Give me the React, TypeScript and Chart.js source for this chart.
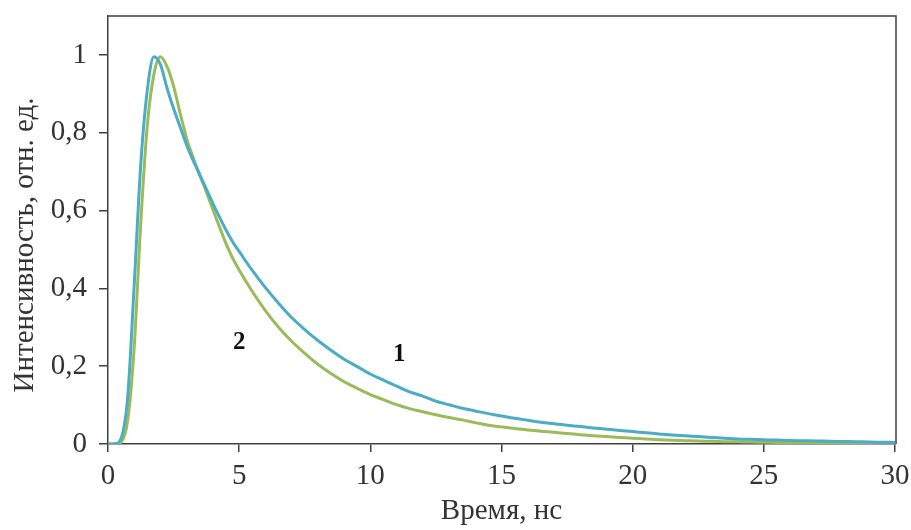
import { useEffect, useRef } from 'react';
import { Chart, registerables } from 'chart.js';

Chart.register(...registerables);

const timeNs = [
  0, 0.25, 0.5, 0.75, 1, 1.25, 1.5, 1.75, 2, 2.25, 2.5, 2.75, 3, 3.25, 3.5, 3.75, 4, 4.25, 4.5, 4.75, 5,
  5.5, 6, 6.5, 7, 7.5, 8, 8.5, 9, 9.5, 10, 10.5, 11, 11.5, 12, 12.5, 13, 13.5, 14, 14.5, 15,
  15.5, 16, 16.5, 17, 17.5, 18, 18.5, 19, 19.5, 20, 20.5, 21, 21.5, 22, 22.5, 23, 23.5, 24, 24.5, 25,
  25.5, 26, 26.5, 27, 27.5, 28, 28.5, 29, 29.5, 30,
];

const series1 = [
  0, 0, 0.015, 0.12, 0.41, 0.72, 0.91, 0.995, 0.975, 0.915, 0.862, 0.815, 0.768, 0.728, 0.692, 0.655, 0.618, 0.583, 0.55, 0.52, 0.495,
  0.446, 0.402, 0.362, 0.325, 0.294, 0.266, 0.241, 0.218, 0.199, 0.18, 0.164, 0.149, 0.134, 0.123, 0.11, 0.101, 0.092, 0.085, 0.078, 0.072,
  0.066, 0.061, 0.056, 0.052, 0.048, 0.045, 0.041, 0.038, 0.035, 0.032, 0.029, 0.026, 0.023, 0.021, 0.019, 0.017, 0.015, 0.013, 0.012, 0.011,
  0.01, 0.009, 0.0085, 0.008, 0.007, 0.0065, 0.006, 0.005, 0.0045, 0.004,
];

const series2 = [
  0, 0, 0.005, 0.06, 0.25, 0.57, 0.82, 0.95, 0.995, 0.97, 0.92, 0.85, 0.785, 0.735, 0.69, 0.648, 0.602, 0.558, 0.515, 0.478, 0.447,
  0.392, 0.343, 0.3, 0.264, 0.233, 0.205, 0.181, 0.16, 0.143, 0.127, 0.114, 0.101, 0.091, 0.083, 0.075, 0.068, 0.062, 0.055, 0.048, 0.044,
  0.04, 0.036, 0.033, 0.03, 0.027, 0.024, 0.021, 0.019, 0.017, 0.015, 0.013, 0.011, 0.0095, 0.0085, 0.0075, 0.007, 0.006, 0.0055, 0.005, 0.0045,
  0.004, 0.004, 0.0035, 0.0035, 0.003, 0.003, 0.003, 0.0025, 0.0025, 0.0025,
];

const xTickValues = [0, 5, 10, 15, 20, 25, 30];
const xTickLabels = ['0', '5', '10', '15', '20', '25', '30'];
const yTickValues = [0, 0.2, 0.4, 0.6, 0.8, 1];
const yTickLabels = ['0', '0,2', '0,4', '0,6', '0,8', '1'];

const xTitle = 'Время, нс';
const yTitle = 'Интенсивность, отн. ед.';
const curveLabels = [
  { text: '1', x: 11.1, y: 0.23 },
  { text: '2', x: 5.0, y: 0.26 },
];

const FONT = "'Liberation Serif', 'Times New Roman', serif";
const AXIS = '#404040';

const decorPlugin = {
  id: 'decor',
  afterDraw(chart: any) {
    const { ctx, chartArea, scales } = chart;
    ctx.save();
    ctx.strokeStyle = AXIS;
    ctx.lineWidth = 1.5;
    ctx.beginPath();
    ctx.moveTo(chartArea.left, chartArea.top);
    ctx.lineTo(chartArea.right + 1, chartArea.top);
    ctx.lineTo(chartArea.right + 1, chartArea.bottom);
    ctx.stroke();

    ctx.fillStyle = '#111';
    ctx.font = `bold 25px ${FONT}`;
    ctx.textAlign = 'center';
    ctx.textBaseline = 'middle';
    for (const l of curveLabels) {
      ctx.fillText(l.text, scales.x.getPixelForValue(l.x), scales.y.getPixelForValue(l.y));
    }

    ctx.fillStyle = '#333';
    ctx.font = `29px ${FONT}`;
    ctx.fillText(xTitle, (chartArea.left + chartArea.right) / 2, 511);
    ctx.translate(25, 245);
    ctx.rotate(-Math.PI / 2);
    ctx.fillText(yTitle, 0, 0);
    ctx.restore();
  },
};

export default function App() {
  const ref = useRef<HTMLCanvasElement>(null);

  useEffect(() => {
    document.body.style.margin = '0';
    if (!ref.current) return;
    const chart = new Chart(ref.current, {
      type: 'line',
      data: {
        datasets: [
          {
            label: '1',
            data: timeNs.map((t, i) => ({ x: t, y: series1[i] })),
            borderColor: '#4BACC6',
            borderWidth: 3,
            pointRadius: 0,
            cubicInterpolationMode: 'monotone',
            fill: false,
          },
          {
            label: '2',
            data: timeNs.map((t, i) => ({ x: t, y: series2[i] })),
            borderColor: '#9BBB59',
            borderWidth: 3,
            pointRadius: 0,
            cubicInterpolationMode: 'monotone',
            fill: false,
          },
        ],
      },
      options: {
        animation: false,
        responsive: false,
        maintainAspectRatio: false,
        layout: { padding: { top: 16, right: 16, left: 0, bottom: 0 } },
        plugins: {
          legend: { display: false },
          tooltip: { enabled: false },
        },
        scales: {
          x: {
            type: 'linear',
            min: 0,
            max: 30,
            afterBuildTicks: (s: any) => {
              s.ticks = xTickValues.map((v) => ({ value: v }));
            },
            afterFit: (s: any) => {
              s.height = 86;
              s.paddingLeft = 0;
              s.paddingRight = 0;
            },
            ticks: {
              autoSkip: false,
              maxRotation: 0,
              padding: 7,
              color: '#333',
              font: { family: FONT, size: 29 },
              callback: (v: any) => xTickLabels[xTickValues.indexOf(Number(v))] ?? '',
            },
            grid: {
              drawOnChartArea: false,
              drawTicks: true,
              tickLength: 8,
              color: AXIS,
              lineWidth: 1.5,
            },
            border: { display: true, color: AXIS, width: 1.5 },
          },
          y: {
            type: 'linear',
            min: 0,
            max: 1.1,
            afterBuildTicks: (s: any) => {
              s.ticks = yTickValues.map((v) => ({ value: v }));
            },
            afterFit: (s: any) => {
              s.width = 108;
              s.paddingTop = 0;
              s.paddingBottom = 0;
            },
            ticks: {
              autoSkip: false,
              padding: 12,
              color: '#333',
              font: { family: FONT, size: 29 },
              callback: (v: any) => {
                const idx = yTickValues.findIndex((t) => Math.abs(t - Number(v)) < 1e-9);
                return idx >= 0 ? yTickLabels[idx] : '';
              },
            },
            grid: {
              drawOnChartArea: false,
              drawTicks: true,
              tickLength: 9,
              color: AXIS,
              lineWidth: 1.5,
            },
            border: { display: true, color: AXIS, width: 1.5 },
          },
        },
      },
      plugins: [decorPlugin],
    });
    return () => chart.destroy();
  }, []);

  return (
    <div style={{ width: 911, height: 530, background: '#fff' }}>
      <canvas ref={ref} width={911} height={530} style={{ display: 'block' }} />
    </div>
  );
}
